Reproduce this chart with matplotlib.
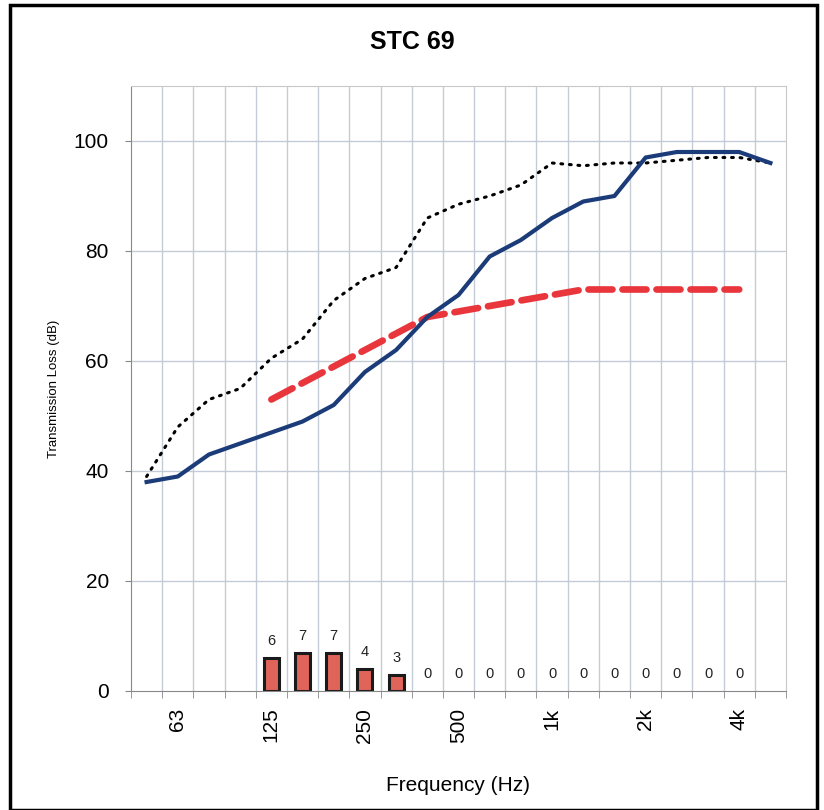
import matplotlib
matplotlib.use("Agg")
import matplotlib.pyplot as plt
from matplotlib.patches import Rectangle

plt.rcParams['font.family'] = ['Liberation Sans', 'DejaVu Sans']

freqs = ["50", "63", "80", "100", "125", "160", "200", "250", "315", "400", "500",
         "630", "800", "1000", "1250", "1600", "2000", "2500", "3150", "4000", "5000"]
tick_labels = {"63": "63", "125": "125", "250": "250", "500": "500",
               "1000": "1k", "2000": "2k", "4000": "4k"}

measured_tl = [38, 39, 43, 45, 47, 49, 52, 58, 62, 68, 72, 79, 82, 86, 89, 90, 97, 98, 98, 98, 96]
upper_tl = [39, 48, 53, 55, 60.5, 64, 71, 75, 77, 86, 88.5, 90, 92, 96, 95.5, 96, 96, 96.5, 97, 97, 96]
stc_freqs = ["125", "160", "200", "250", "315", "400", "500", "630", "800", "1000",
             "1250", "1600", "2000", "2500", "3150", "4000"]
stc_contour = [53, 56, 59, 62, 65, 68, 69, 70, 71, 72, 73, 73, 73, 73, 73, 73]
deficiencies = [6, 7, 7, 4, 3, 0, 0, 0, 0, 0, 0, 0, 0, 0, 0, 0]

fig = plt.figure(figsize=(8.24, 8.10), dpi=100)
ax = fig.add_axes([131/824, 1 - 691/810, (786 - 131)/824, (691 - 86)/810])

x_all = list(range(len(freqs)))
x_stc = [freqs.index(f) for f in stc_freqs]

# gridlines
for b in range(1, len(freqs)):
    ax.axvline(b - 0.5, color='#c3ccd6', lw=1.0, zorder=0)
for yv in range(20, 101, 20):
    ax.axhline(yv, color='#c3ccd6', lw=1.0, zorder=0)

# bars (deficiencies)
bx = [x for x, d in zip(x_stc, deficiencies) if d > 0]
bh = [d for d in deficiencies if d > 0]
ax.bar(bx, bh, width=0.48, color='#e0645a', edgecolor='#1a1a1a', linewidth=2.2, zorder=2)
for x, d in zip(x_stc, deficiencies):
    ax.text(x, d + 1.8, str(d), ha='center', va='bottom', fontsize=10.5, color='#222222', zorder=5)

ax.plot(x_all, upper_tl, color='black', lw=2.2, linestyle=(0, (0.6, 2.2)),
        dash_capstyle='round', zorder=3)
ax.plot(x_stc, stc_contour, color='#e8363c', lw=4.8, linestyle=(0, (3.6, 1.5)),
        dash_capstyle='round', zorder=3)
ax.plot(x_all, measured_tl, color='#1b3c78', lw=3.0, zorder=4, solid_joinstyle='round')

ax.set_xlim(-0.5, len(freqs) - 0.5)
ax.set_ylim(0, 110)
ax.set_yticks(range(0, 101, 20))
ax.tick_params(axis='y', labelsize=15, length=4, color='#888888', pad=12)

ticks_pos = [freqs.index(f) for f in tick_labels]
ax.set_xticks(ticks_pos)
ax.set_xticklabels([tick_labels[f] for f in tick_labels], rotation=90, fontsize=15)
ax.tick_params(axis='x', length=0, pad=12)
ax.set_xticks([b - 0.5 for b in range(len(freqs) + 1)], minor=True)
ax.tick_params(axis='x', which='minor', length=5, color='#888888')

for side in ['top', 'right']:
    ax.spines[side].set_color('#c8c8c8')
ax.spines['left'].set_color('#888888')
ax.spines['bottom'].set_color('#888888')

ax.set_ylabel("Transmission Loss (dB)", fontsize=9.5, labelpad=10)
ax.set_xlabel("Frequency (Hz)", fontsize=15, labelpad=24)
fig.text(0.5, 1 - 42/810, "STC 69", ha='center', va='center', fontsize=18, fontweight='bold')

fig.patches.append(Rectangle((10/824, 0), (817 - 10)/824, (805)/810, transform=fig.transFigure,
                             fill=False, edgecolor='black', lw=2.5))

fig.savefig("out.png", dpi=100)
